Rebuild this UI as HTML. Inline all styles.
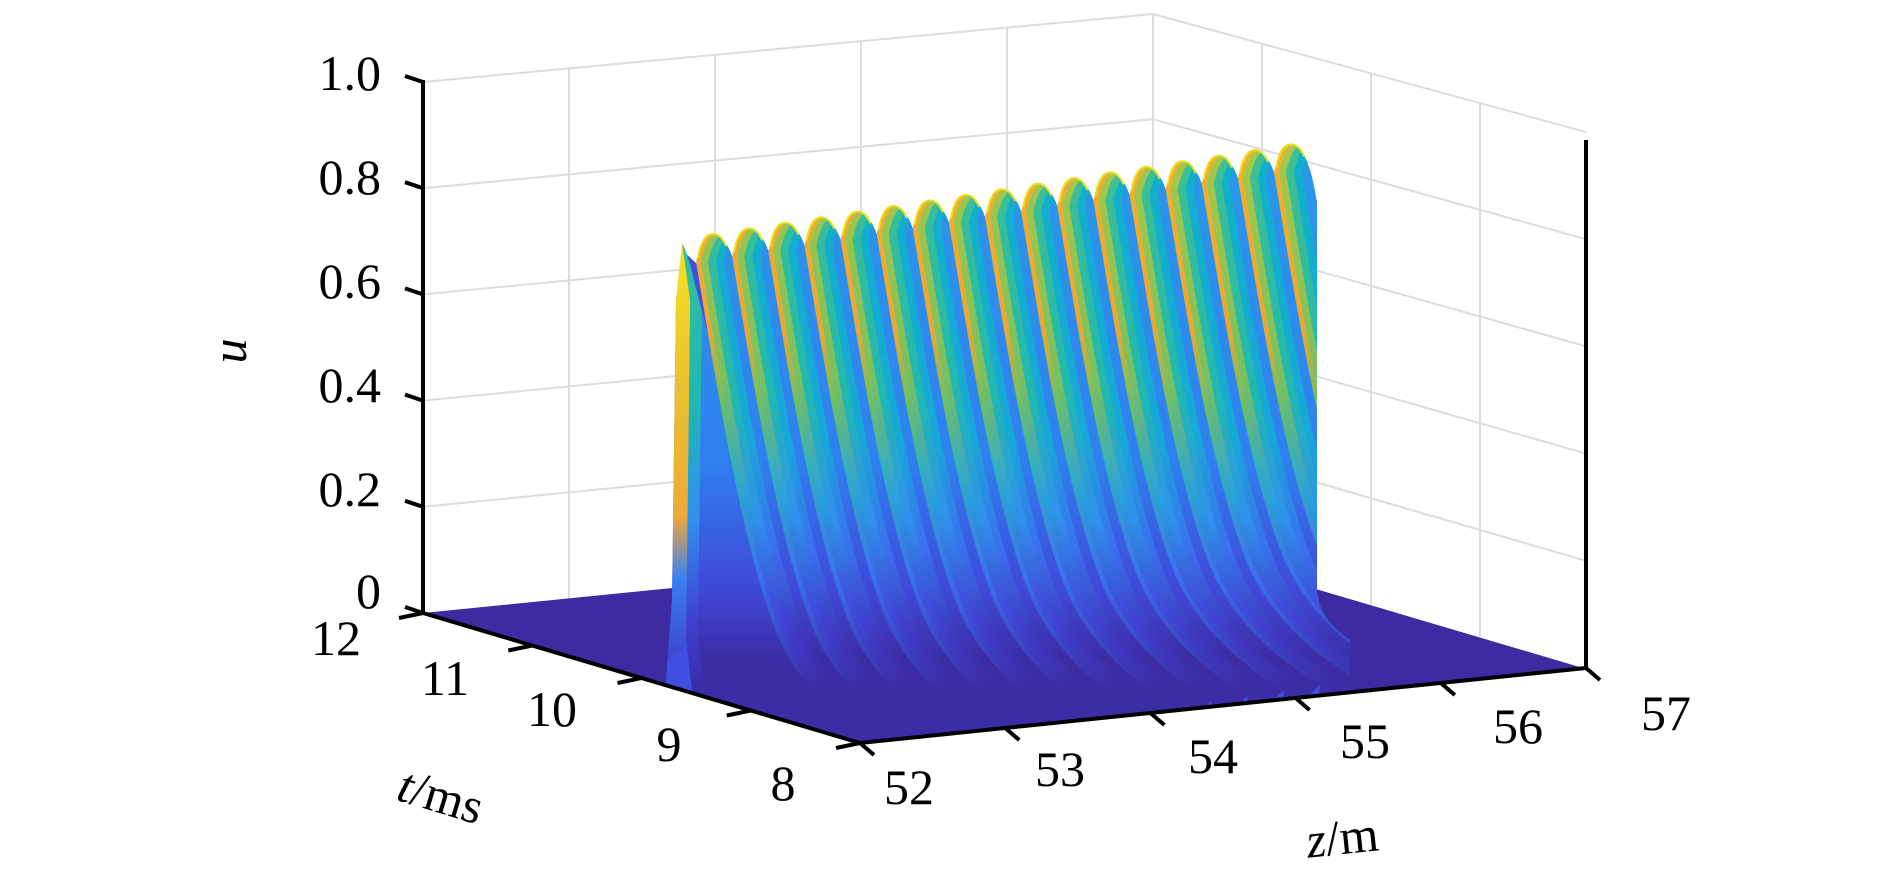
<!DOCTYPE html>
<html><head><meta charset="utf-8">
<style>
html,body{margin:0;padding:0;background:#fff;}
svg{display:block;}
text{font-family:"Liberation Serif",serif;fill:#000;}
</style></head>
<body>
<svg id="s" width="1890" height="875" viewBox="0 0 1890 875" xmlns="http://www.w3.org/2000/svg">
<defs>
<linearGradient id="face" gradientUnits="userSpaceOnUse" x1="0" y1="250" x2="0" y2="660">
<stop offset="0" stop-color="#f5e020"/>
<stop offset="0.35" stop-color="#e8c030"/>
<stop offset="0.65" stop-color="#f0a838"/>
<stop offset="0.8" stop-color="#3a80f0"/>
<stop offset="1" stop-color="#3d45d0"/>
</linearGradient>
<clipPath id="floorclip"><path d="M0,0 L1890,0 L1890,668 L1583,668 L860,743 L423,613 L0,613 Z"/></clipPath>
<clipPath id="surfclip"><path d="M0,0 L1317,0 L1317,592 C1320,615 1330,625 1350,640 L1350,800 L0,800 Z"/></clipPath>
</defs>
<g id="grid" stroke="#dcdcdc" stroke-width="2" fill="none"></g>
<g clip-path="url(#floorclip)"><path d="M423,613 L860,743 L1583,668 L1150,540 Z" fill="#3d2ba2"/><g clip-path="url(#surfclip)"><g id="surf"></g></g></g>
<g id="axes" stroke="#000" stroke-width="4" fill="none"></g>
<g id="labels" font-size="50"></g>
</svg>
<script>
const NS="http://www.w3.org/2000/svg";
function el(tag,attrs,parent,txt){const e=document.createElementNS(NS,tag);for(const k in attrs)e.setAttribute(k,attrs[k]);if(txt!==undefined)e.textContent=txt;parent.appendChild(e);return e;}
const grid=document.getElementById('grid'),surf=document.getElementById('surf'),axes=document.getElementById('axes'),labels=document.getElementById('labels');
const defs=document.querySelector('defs');
for(let k=1;k<=5;k++){const yl=613-106.2*k, yb=540-105.2*k;el('line',{x1:423,y1:yl,x2:1153,y2:yb},grid);}
function topL(x){return 82+(x-423)*(-68/730);}
function botL(x){return 613+(x-423)*(-73/730);}
[569,715,861,1007].forEach(x=>el('line',{x1:x,y1:topL(x),x2:x,y2:botL(x)},grid));
el('line',{x1:1153,y1:14,x2:1153,y2:540},grid);
for(let k=1;k<=5;k++){const yb=540-105.2*k, yr=668-107.2*k;el('line',{x1:1153,y1:yb,x2:1586,y2:yr},grid);}
function topR(x){return 14+(x-1153)*(118/433);}
function botR(x){return 540+(x-1153)*(128/433);}
[1262,1371,1480].forEach(x=>el('line',{x1:x,y1:topR(x),x2:x,y2:botR(x)},grid));
const bands=[
 [0,[[150,'#f0b030'],[330,'#e8a838'],[400,'#70c060'],[470,'#30b0c0'],[580,'#3a70f0'],[690,'#3c2ca5']]],
 [5,[[150,'#a8c848'],[380,'#78c060'],[500,'#28a0e0'],[600,'#4050e0'],[690,'#3c2ca5']]],
 [12,[[150,'#40c090'],[400,'#20b8b0'],[520,'#3090f0'],[620,'#4040d0'],[690,'#3c2ca5']]],
 [20,[[150,'#10b0c8'],[440,'#18a8d8'],[550,'#3a70f0'],[640,'#3e35b8'],[690,'#3c2ca5']]],
 [28,[[150,'#2a98ea'],[460,'#3080f0'],[590,'#4048d8'],[660,'#3c2ca5']]]
];
bands.forEach((b,i)=>{const g=el('linearGradient',{id:'b'+i,gradientUnits:'userSpaceOnUse',x1:0,y1:150,x2:0,y2:690},defs);
 b[1].forEach(s=>el('stop',{offset:(s[0]-150)/540,'stop-color':s[1]},g));});
const N=17, d=36.125;
const peaks=[];for(let i=0;i<N;i++)peaks.push([713+i*d,234-i*5.6]);
el('path',{d:`M672,600 L676,300 L682,250 ${peaks.map(p=>'L'+p[0]+','+(p[1]+45)).join(' ')} L1317,200 L1317,600 L1345,640 L1345,760 L660,760 Z`,fill:'#3f50e0'},surf);
el('path',{d:'M682,243 L676,300 L672,600 L668,660 L692,640 L694,300 Z',fill:'url(#face)'},surf);
function leftB(vx,vy){return `C${vx+20},${vy+120} ${vx+45},${vy+280} ${vx+80},${vy+370} C${vx+100},${vy+420} ${vx+140},${vy+460} ${vx+190},${vy+490}`;}
for(let i=-1;i<N;i++){
  let px,py;
  if(i<0){px=682;py=243;}else{px=peaks[i][0];py=peaks[i][1];}
  const vx=px-17, vy=py+28;
  let dpath;
  const back=`L${vx+190},${vy+520} L${vx+190},${vy+490} C${vx+140},${vy+460} ${vx+100},${vy+420} ${vx+80},${vy+370} C${vx+45},${vy+280} ${vx+20},${vy+120} ${vx},${vy} Z`;
  if(i<0){
    dpath=`M682,243 C686,250 690,262 694,280 L${vx+36+20},${vy-5.6+120} L${vx+36+80},${vy+365} L${vx+36+190},${vy+485} L700,760 L686,640 L690,300 Z`;
  } else if(i<N-1){
    const rx=vx+d, ry=vy-5.6;
    dpath=`M${vx},${vy} C${px-12},${py+6} ${px-6},${py} ${px},${py} C${px+7},${py} ${px+14},${py+8} ${rx},${ry} ${leftB(rx,ry)} ${back}`;
  } else {
    dpath=`M${vx},${vy} C${px-12},${py+6} ${px-6},${py} ${px},${py} C${px+9},${py} ${px+20},${py+15} 1317,${py+60} L1317,600 L1345,640 ${back}`;
  }
  const cid='c'+(i+1);
  const cp=el('clipPath',{id:cid},defs);el('path',{d:dpath},cp);
  const g=el('g',{'clip-path':`url(#${cid})`},surf);
  if(i<0){
    el('path',{d:dpath,fill:'url(#b2)'},g);
    el('path',{d:dpath,fill:'url(#b4)',transform:'translate(12,0)'},g);
  } else {
    bands.forEach((b,k)=>el('path',{d:dpath,fill:`url(#b${k})`,transform:`translate(${b[0]},0)`},g));
    el('path',{d:`M${vx+2},${vy-4} C${px-12},${py+6} ${px-6},${py} ${px},${py} C${px+5},${py} ${px+10},${py+4} ${px+13},${py+12}`,fill:'none',stroke:'#e8e020','stroke-width':2},surf);
  }
}
el('line',{x1:423,y1:80,x2:423,y2:613},axes);
el('line',{x1:1586,y1:140,x2:1586,y2:668},axes);
el('polyline',{points:'423,613 860,743 1586,668'},axes);
for(let k=0;k<=5;k++){const y=613-106.2*k;el('line',{x1:423,y1:y,x2:405,y2:y-6},axes);}
for(let k=0;k<=4;k++){const x=423+k*109.25,y=613+k*32.5;el('line',{x1:x,y1:y,x2:x-24,y2:y+5},axes);}
for(let k=0;k<=5;k++){const x=860+k*145.2,y=743-k*15;el('line',{x1:x,y1:y,x2:x+14,y2:y+12},axes);}
[['1.0',73],['0.8',177],['0.6',281],['0.4',385],['0.2',489],['0',591]].forEach(a=>el('text',{x:381,y:a[1]+17,'text-anchor':'end'},labels,a[0]));
[['12',336,638],['11',445,678],['10',552,709],['9',669,744],['8',783,783]].forEach(a=>el('text',{x:a[1],y:a[2]+17,'text-anchor':'middle'},labels,a[0]));
[['52',909,787],['53',1060,769],['54',1213,756],['55',1365,741],['56',1518,726],['57',1666,713]].forEach(a=>el('text',{x:a[1],y:a[2]+17,'text-anchor':'middle'},labels,a[0]));
el('text',{x:0,y:0,'text-anchor':'middle','font-style':'italic',transform:'translate(246,351) rotate(-90)'},labels,'u');
const tm=el('text',{x:0,y:0,'text-anchor':'middle',transform:'translate(436,812) rotate(17)'},labels);
el('tspan',{'font-style':'italic'},tm,'t');tm.appendChild(document.createTextNode('/ms'));
const zm=el('text',{x:0,y:0,'text-anchor':'middle',transform:'translate(1344,854) rotate(-6)'},labels);
el('tspan',{'font-style':'italic'},zm,'z');zm.appendChild(document.createTextNode('/m'));
</script>
</body></html>
